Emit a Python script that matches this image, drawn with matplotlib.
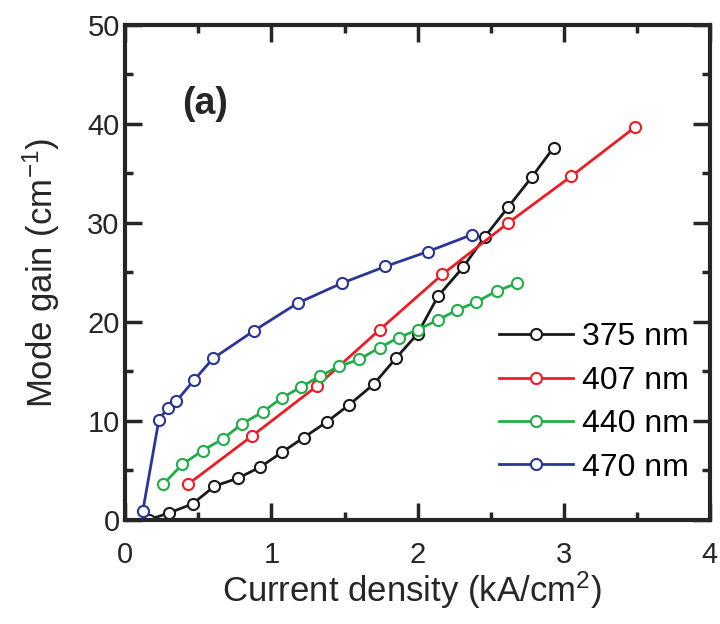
import matplotlib
matplotlib.use('Agg')
import matplotlib.pyplot as plt
from matplotlib.ticker import MultipleLocator

# data
x_375 = [0.16, 0.30, 0.46, 0.61, 0.77, 0.92, 1.07, 1.22, 1.38, 1.53, 1.70, 1.85, 2.00, 2.14, 2.31, 2.46, 2.62, 2.78, 2.93]
y_375 = [0.0, 0.7, 1.6, 3.4, 4.2, 5.3, 6.8, 8.3, 9.9, 11.6, 13.7, 16.3, 18.8, 22.6, 25.5, 28.6, 31.6, 34.6, 37.6]

x_407 = [0.43, 0.87, 1.31, 1.74, 2.17, 2.62, 3.05, 3.49]
y_407 = [3.6, 8.5, 13.5, 19.2, 24.8, 30.0, 34.7, 39.7]

x_440 = [0.26, 0.39, 0.53, 0.67, 0.80, 0.94, 1.07, 1.20, 1.33, 1.46, 1.60, 1.74, 1.87, 2.00, 2.14, 2.27, 2.40, 2.54, 2.68]
y_440 = [3.6, 5.6, 7.0, 8.2, 9.7, 10.9, 12.3, 13.4, 14.5, 15.5, 16.2, 17.4, 18.4, 19.2, 20.2, 21.2, 22.0, 23.1, 23.9]

x_470 = [0.12, 0.23, 0.29, 0.35, 0.47, 0.60, 0.88, 1.18, 1.48, 1.78, 2.07, 2.37]
y_470 = [0.9, 10.1, 11.3, 12.0, 14.1, 16.3, 19.1, 21.9, 23.9, 25.6, 27.1, 28.8]

series = [
    (x_375, y_375, '375 nm', '#1a1a1a'),
    (x_407, y_407, '407 nm', '#f01c24'),
    (x_440, y_440, '440 nm', '#1fae48'),
    (x_470, y_470, '470 nm', '#2b3595'),
]

plt.rcParams['font.family'] = ['Liberation Sans', 'DejaVu Sans']
plt.rcParams['mathtext.default'] = 'regular'
txt_col = '#262626'

fig = plt.figure(figsize=(7.2, 6.24), dpi=100)
ax = fig.add_axes([0.174, 0.167, 0.812, 0.793])

for xs, ys, lab, col in series:
    ax.plot(xs, ys, '-o', color=col, lw=2, ms=8, mfc='white', mec=col, mew=1.5, label=lab)

ax.set_xlim(0, 4)
ax.set_ylim(0, 50)
ax.xaxis.set_major_locator(MultipleLocator(1))
ax.xaxis.set_minor_locator(MultipleLocator(0.5))
ax.yaxis.set_major_locator(MultipleLocator(10))
ax.yaxis.set_minor_locator(MultipleLocator(5))
ax.tick_params(which='both', direction='in', top=True, right=True, labelsize=21, colors=txt_col)
ax.tick_params(which='major', length=12, width=2.5)
ax.tick_params(which='minor', length=6, width=2.5)
ax.tick_params(axis='x', which='major', pad=15)
ax.tick_params(axis='y', which='major', pad=4)
for sp in ax.spines.values():
    sp.set_linewidth(3)
    sp.set_color(txt_col)

ax.set_xlabel('Current density (kA/cm$^2$)', fontsize=25, color=txt_col)
ax.set_ylabel('Mode gain (cm$^{-1}$)', fontsize=25, color=txt_col)
ax.xaxis.set_label_coords(0.49, -0.1)
ax.yaxis.set_label_coords(-0.108, 0.5)

ax.text(0.39, 41.0, '(a)', fontsize=27, fontweight='bold', color=txt_col, va='baseline')

ax.legend(loc='lower right', bbox_to_anchor=(0.965, 0.075), frameon=False, fontsize=23,
          handlelength=2.3, handletextpad=0.3, labelspacing=0.42, borderaxespad=0, borderpad=0)

fig.savefig('out.png', dpi=100)
